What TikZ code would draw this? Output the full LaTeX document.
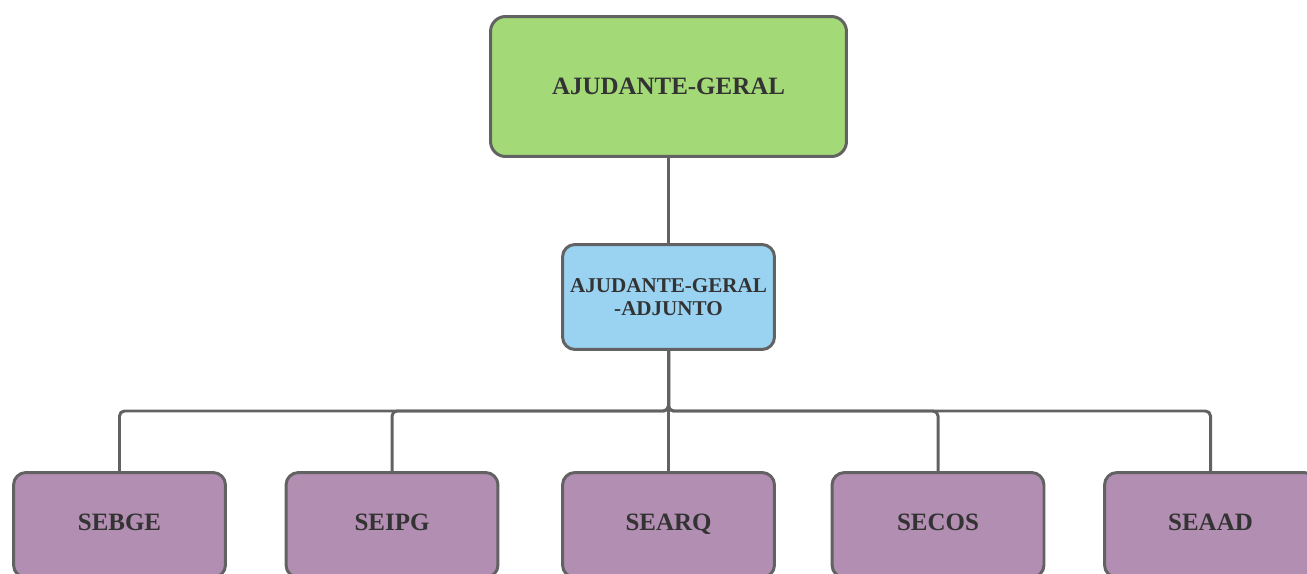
\documentclass[tikz,border=0pt]{standalone}
\usepackage{fontspec}
\setmainfont{Liberation Serif}
\definecolor{boxgreen}{HTML}{A3D977}
\definecolor{boxblue}{HTML}{9AD2F2}
\definecolor{boxpurple}{HTML}{B28EB2}
\definecolor{edge}{HTML}{626262}
\definecolor{ink}{HTML}{333333}
\begin{document}
\begin{tikzpicture}[x=0.02cm,y=-0.02cm,line join=round,line cap=round,
		font=\bfseries\fontsize{14.2}{16}\selectfont,
		box/.style={draw=edge,line width=1.7pt,rounded corners=0.3cm,text=ink,align=center,
			minimum width=4.24cm,minimum height=2.1cm},
		chief/.style={box,fill=boxgreen,minimum width=7.12cm,minimum height=2.8cm},
		deputy/.style={box,fill=boxblue,rounded corners=0.25cm,font=\bfseries\fontsize{12}{13.5}\selectfont},
		leaf/.style={box,fill=boxpurple,rounded corners=0.25cm,text height=0.66em,text depth=0pt},
		conn/.style={draw=edge,line width=1.7pt,rounded corners=0.1cm}]
	\useasboundingbox (0,0) rectangle (1307,574);
	\node[chief] (ag) at (668.5,86.5) {AJUDANTE-GERAL};
	\node[deputy] (aga) at (668.5,297) {AJUDANTE-GERAL\\-ADJUNTO};
	\coordinate (bus) at (668.5,411);
	\foreach \nm/\x in {SEBGE/119.5,SEIPG/392,SEARQ/668.5,SECOS/938,SEAAD/1210.5}{
		\node[leaf] (\nm) at (\x,525) {\nm};}
	\draw[conn] (ag.south) -- (aga.north);
	\foreach \nm in {SEBGE,SEIPG,SEARQ,SECOS,SEAAD}{
		\draw[conn] (aga.south) -- (bus) -| (\nm.north);}
\end{tikzpicture}
\end{document}
